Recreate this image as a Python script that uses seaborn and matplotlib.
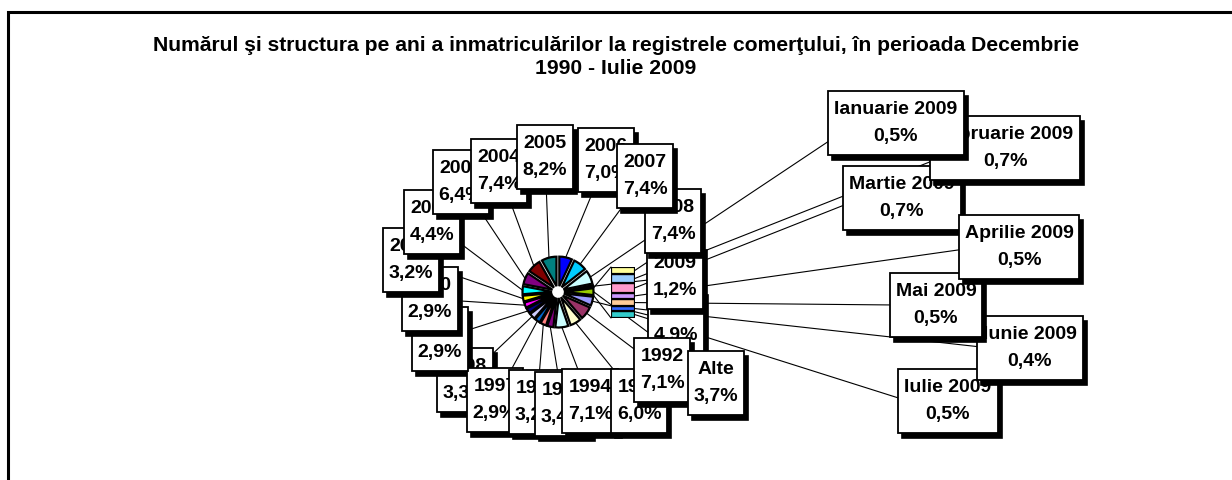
import matplotlib
matplotlib.use("Agg")
import matplotlib.pyplot as plt
import seaborn as sns
import numpy as np

sns.set_theme(style="white")
plt.rcParams['font.family'] = ['Liberation Sans', 'DejaVu Sans']
plt.rcParams['text.color'] = 'black'

# ---------------- data ----------------
pie_labels = ['2006', '2007', '2008', '2009', 'Alte', '1991', '1992', '1993', '1994',
              '1995', '1996', '1997', '1998', '1999', '2000', '2001', '2002', '2003',
              '2004', '2005']
pie_values = [7.0, 7.4, 7.4, 1.2, 3.7, 4.9, 7.1, 6.0, 7.1,
              3.4, 3.2, 2.9, 3.3, 2.9, 2.9, 3.2, 4.4, 6.4,
              7.4, 8.2]
month_labels = ['Ianuarie 2009', 'Februarie 2009', 'Martie 2009', 'Aprilie 2009',
                'Mai 2009', 'Iunie 2009', 'Iulie 2009']
month_values = [0.5, 0.7, 0.7, 0.5, 0.5, 0.4, 0.5]

title = ("Numărul şi structura pe ani a inmatriculărilor la registrele comerţului, "
         "în perioada Decembrie\n1990 - Iulie 2009")

# ---------------- style / layout ----------------
pie_colors = sns.color_palette(['#0000FF', '#00CCFF', '#CCFFFF', '#333300', '#99CC00',
                                '#9999FF', '#993366', '#FFFFCC', '#CCFFFF', '#800080',
                                '#FF8080', '#0066CC', '#CCCCFF', '#000080', '#FF00FF',
                                '#FFFF00', '#00FFFF', '#800080', '#800000', '#008080'])
month_colors = sns.color_palette(['#FFFF99', '#99CCFF', '#FF99CC', '#CC99FF',
                                  '#FFCC99', '#3366FF', '#33CCCC'])

W, H = 1232, 480
# label box centres (pixels, measured from top)
year_label_pos = {
    '2006': (606, 160), '2007': (645, 176), '2008': (673, 221), '2009': (675, 277),
    'Alte': (716, 383), '1991': (676, 322), '1992': (662, 370), '1993': (639, 401),
    '1994': (590, 401), '1995': (563, 404), '1996': (537, 402), '1997': (495, 400),
    '1998': (465, 380), '1999': (440, 339), '2000': (430, 299), '2001': (411, 260),
    '2002': (432, 222), '2003': (461, 182), '2004': (499, 171), '2005': (545, 157)}
year_label_z = {
    '1991': 1, '2009': 2, '2006': 2, '2008': 3, '2007': 4,
    '1998': 13, '1999': 14, '2000': 15, '2001': 16, '2002': 17, '2003': 18,
    '2004': 19, '2005': 20, '1997': 14, '1996': 15, '1995': 16, '1994': 17,
    '1993': 18, '1992': 19, 'Alte': 20}
month_label_pos = [(896, 123), (1005, 148), (902, 198), (1019, 247),
                   (936, 305), (1030, 348), (948, 401)]
month_label_z = [10, 9, 8, 9, 8, 7, 6]
PADX, PADY = 6, 10
SHADOW = (4, -5)

fig = plt.figure(figsize=(W / 100, H / 100), dpi=100)
fig.patch.set_facecolor('white')
ax = fig.add_axes([0, 0, 1, 1])

pie_center = (558, H - 292)
wedges, _ = ax.pie(pie_values, colors=pie_colors, startangle=90, counterclock=False,
                   center=pie_center, radius=29.5, explode=[6] * len(pie_values),
                   wedgeprops=dict(edgecolor='black', linewidth=1.6, zorder=3))
ax.set_xlim(0, W)
ax.set_ylim(0, H)
ax.set_aspect('equal')
ax.axis('off')

# stacked bar (months) in its own axes
bar_left, bar_top, bar_w, bar_h = 611, 267, 24, 51
axb = fig.add_axes([bar_left / W, (H - bar_top - bar_h) / H, bar_w / W, bar_h / H])
total = sum(month_values)
bottom = 0
seg_mid = []
for lab, val, col in reversed(list(zip(month_labels, month_values, month_colors))):
    axb.bar([0], [val], bottom=bottom, width=1, color=col, edgecolor='black', linewidth=1.6)
    seg_mid.append(bottom + val / 2)
    bottom += val
seg_mid = list(reversed(seg_mid))
axb.set_xlim(-0.5, 0.5)
axb.set_ylim(0, total)
axb.axis('off')

to_main = lambda pts: ax.transData.inverted().transform(axb.transData.transform(pts))

font = dict(fontsize=14, fontweight='bold', ha='center', va='center', linespacing=1.75,
            color='black')
labels = []


def boxed(x, y, txt, z):
    t = ax.text(x, y, txt, zorder=10 + z, **font)
    labels.append((t, z))


# pie labels with leader lines
for w, lab, val in zip(wedges, pie_labels, pie_values):
    ang = np.deg2rad((w.theta1 + w.theta2) / 2)
    sx = w.center[0] + w.r * np.cos(ang)
    sy = w.center[1] + w.r * np.sin(ang)
    lx, ly = year_label_pos[lab]
    ly = H - ly
    ax.plot([sx, lx], [sy, ly], color='black', lw=0.8, zorder=2)
    boxed(lx, ly, f"{lab}\n{val:.1f}%".replace('.', ','), year_label_z[lab])

# month labels with leader lines from bar segments
for lab, val, m, pos, z in zip(month_labels, month_values, seg_mid, month_label_pos, month_label_z):
    sx, sy = to_main([(0.5, m)])[0]
    lx, ly = pos
    ly = H - ly
    ax.plot([sx, lx - 40], [sy, ly], color='black', lw=0.8, zorder=2)
    boxed(lx, ly, f"{lab}\n{val:.1f}%".replace('.', ','), z)

# series lines from "Alte" wedge to bar
alte = wedges[pie_labels.index('Alte')]
for th, yb in ((alte.theta1, 0), (alte.theta2, total)):
    a = np.deg2rad(th)
    px = alte.center[0] + alte.r * np.cos(a)
    py = alte.center[1] + alte.r * np.sin(a)
    bx, by = to_main([(-0.5, yb)])[0]
    ax.plot([px, bx], [py, by], color='black', lw=0.8, zorder=2)

# boxes + shadows sized to text
fig.canvas.draw()
renderer = fig.canvas.get_renderer()
inv = ax.transData.inverted()
for t, z in labels:
    bb = t.get_window_extent(renderer)
    (x0, y0), (x1, y1) = inv.transform([(bb.x0, bb.y0), (bb.x1, bb.y1)])
    cx, cy = t.get_position()
    wid = (x1 - x0) + 2 * PADX
    hgt = (y1 - y0) + 2 * PADY
    bx0, by0 = cx - wid / 2, cy - hgt / 2
    ax.add_patch(plt.Rectangle((bx0 + SHADOW[0], by0 + SHADOW[1]), wid, hgt,
                               fc='black', ec='black', lw=1.2, zorder=10 + z - 0.2))
    ax.add_patch(plt.Rectangle((bx0, by0), wid, hgt,
                               fc='white', ec='black', lw=1.3, zorder=10 + z - 0.1))

# title
ax.text(616, H - 57, title, fontsize=15.2, fontweight='bold', ha='center', va='center',
        linespacing=1.3, zorder=30, color='black')

# chart frame
ax.add_patch(plt.Rectangle((8, -20), W + 20, H - 12 + 20, fill=False, ec='black',
                           lw=2.2, zorder=40, clip_on=False))

fig.savefig('out.png', dpi=100, facecolor='white')
